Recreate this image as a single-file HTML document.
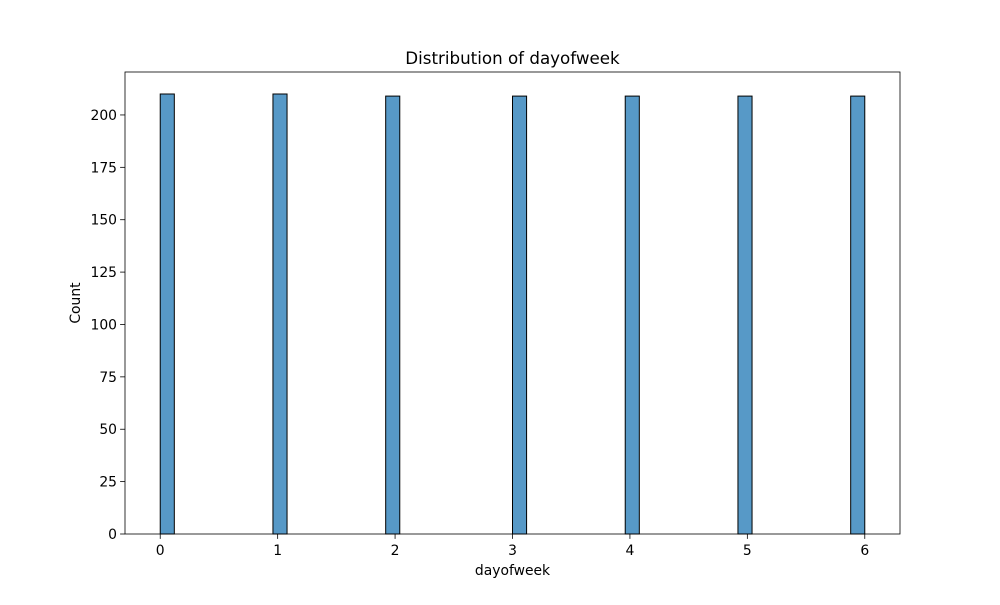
<!DOCTYPE html>
<html><head><meta charset="utf-8"><style>
body{margin:0;background:#fff;}
svg text{font-family:"DejaVu Sans","Liberation Sans",sans-serif;fill:#000;}
</style></head><body>
<svg id="chart" width="1000" height="600" viewBox="0 0 1000 600">
<rect width="1000" height="600" fill="#fff"/>
<text x="512.5" y="64" font-size="16.7" text-anchor="middle">Distribution of dayofweek</text>
<g id="bars"></g>
<g id="axes"></g>
<text x="512.5" y="575" font-size="13.9" text-anchor="middle">dayofweek</text>
<text x="80" y="303" font-size="13.9" text-anchor="middle" transform="rotate(-90 80 303)">Count</text>
</svg>
<script>
const categories=[0,1,2,3,4,5,6];
const counts=[210,210,209,209,209,209,209];
const yTicks=[0,25,50,75,100,125,150,175,200];
const xTicks=[0,1,2,3,4,5,6];
const L=125,R=900,T=72,B=534;
const xMin=-0.3,xMax=6.3,yMax=220.5;
const xs=v=>L+(v-xMin)/(xMax-xMin)*(R-L);
const ys=v=>B-v/yMax*(B-T);
const NS="http://www.w3.org/2000/svg";
const bars=document.getElementById('bars'),axes=document.getElementById('axes');
const lo=Math.min(...categories),hi=Math.max(...categories),nb=50,bw=(hi-lo)/nb;
categories.forEach((c,i)=>{
  let b=Math.min(Math.floor((c-lo)/bw+1e-9),nb-1);
  const x0=lo+b*bw,x1=x0+bw;
  const r=document.createElementNS(NS,'rect');
  r.setAttribute('x',xs(x0));r.setAttribute('width',xs(x1)-xs(x0));
  r.setAttribute('y',ys(counts[i]));r.setAttribute('height',ys(0)-ys(counts[i]));
  r.setAttribute('fill','#5799c7');r.setAttribute('stroke','#000');r.setAttribute('stroke-width','1');
  
  
  bars.appendChild(r);
});
const frame=document.createElementNS(NS,'rect');
frame.setAttribute('x',L);frame.setAttribute('y',T);frame.setAttribute('width',R-L);frame.setAttribute('height',B-T);
frame.setAttribute('fill','none');frame.setAttribute('stroke','#000');frame.setAttribute('stroke-width','0.8');


axes.appendChild(frame);
yTicks.forEach(t=>{
  const y=ys(t);
  const l=document.createElementNS(NS,'line');
  l.setAttribute('x1',L-4.9);l.setAttribute('x2',L);l.setAttribute('y1',y);l.setAttribute('y2',y);l.setAttribute('stroke','#000');l.setAttribute('stroke-width','0.8');
  
  
  axes.appendChild(l);
  const tx=document.createElementNS(NS,'text');
  tx.setAttribute('x',L-8);tx.setAttribute('y',y+5);tx.setAttribute('font-size','13.9');tx.setAttribute('text-anchor','end');tx.textContent=t;
  
  
  axes.appendChild(tx);
});
xTicks.forEach(t=>{
  const x=xs(t);
  const l=document.createElementNS(NS,'line');
  l.setAttribute('x1',x);l.setAttribute('x2',x);l.setAttribute('y1',B);l.setAttribute('y2',B+4.9);l.setAttribute('stroke','#000');l.setAttribute('stroke-width','0.8');
  
  
  axes.appendChild(l);
  const tx=document.createElementNS(NS,'text');
  tx.setAttribute('x',x);tx.setAttribute('y',B+21);tx.setAttribute('font-size','13.9');tx.setAttribute('text-anchor','middle');tx.textContent=t;
  
  
  axes.appendChild(tx);
});
</script>
</body></html>
